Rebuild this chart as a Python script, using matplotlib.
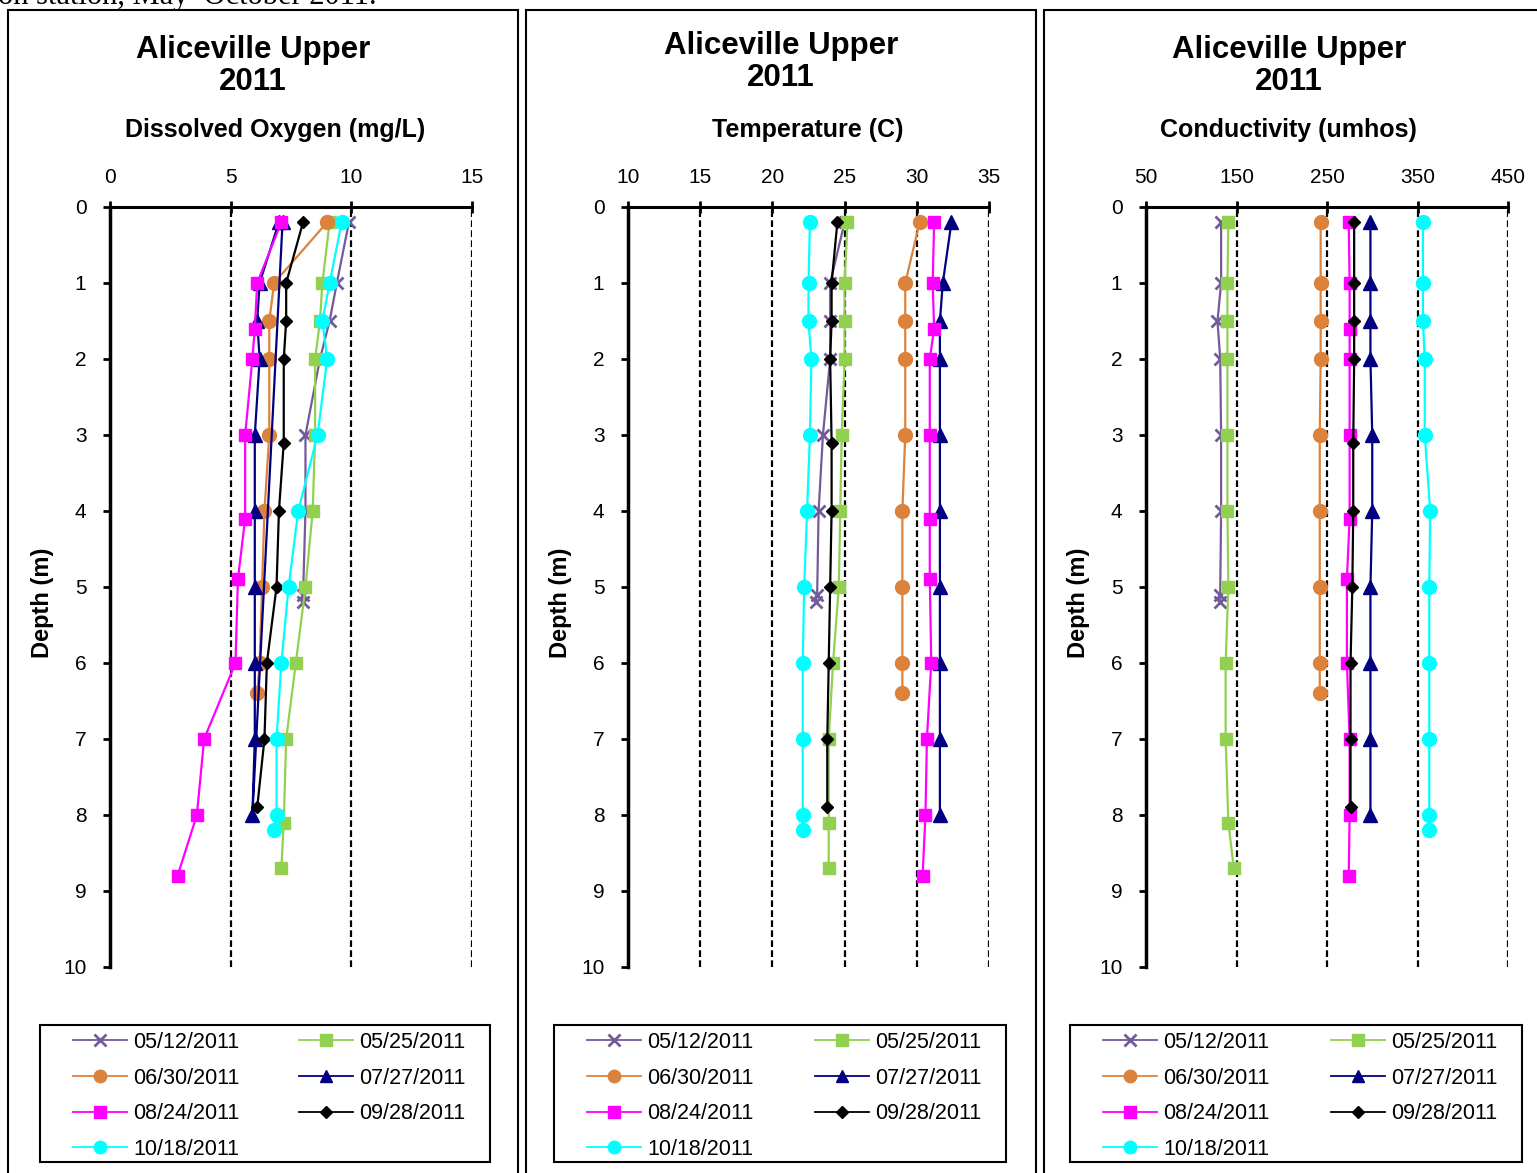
import matplotlib
matplotlib.use("Agg")
import matplotlib.pyplot as plt
from matplotlib.patches import Rectangle

plt.rcParams['font.family'] = ['Liberation Sans', 'DejaVu Sans']

W, H = 1537, 1173

# ---------------- data ----------------
dates = ["05/12/2011", "05/25/2011", "06/30/2011", "07/27/2011",
         "08/24/2011", "09/28/2011", "10/18/2011"]

depth_0512 = [0.2, 1, 1.5, 2, 3, 4, 5.1, 5.2]
depth_0525 = [0.2, 1, 1.5, 2, 3, 4, 5, 6, 7, 8.1, 8.7]
depth_0630 = [0.2, 1, 1.5, 2, 3, 4, 5, 6, 6.4]
depth_0727 = [0.2, 1, 1.5, 2, 3, 4, 5, 6, 7, 8]
depth_0727_do = [0.2, 1, 1.5, 2, 3, 4, 5, 6, 7, 8, 0.2]
depth_0824 = [0.2, 1, 1.6, 2, 3, 4.1, 4.9, 6, 7, 8, 8.8]
depth_0928 = [0.2, 1, 1.5, 2, 3.1, 4, 5, 6, 7, 7.9]
depth_1018 = [0.2, 1, 1.5, 2, 3, 4, 5, 6, 7, 8, 8.2]

do_0512 = [9.9, 9.4, 9.1, 8.7, 8.1, 8.1, 8.0, 8.0]
do_0525 = [9.1, 8.8, 8.7, 8.5, 8.5, 8.4, 8.1, 7.7, 7.3, 7.2, 7.1]
do_0630 = [9.0, 6.8, 6.6, 6.6, 6.6, 6.4, 6.3, 6.2, 6.1]
do_0727 = [7.0, 6.2, 6.1, 6.2, 6.0, 6.0, 6.0, 6.0, 6.0, 5.9, 7.15]
do_0824 = [7.1, 6.1, 6.0, 5.9, 5.6, 5.6, 5.3, 5.2, 3.9, 3.6, 2.8]
do_0928 = [8.0, 7.3, 7.3, 7.2, 7.2, 7.0, 6.9, 6.5, 6.4, 6.1]
do_1018 = [9.6, 9.1, 8.8, 9.0, 8.6, 7.8, 7.4, 7.1, 6.9, 6.9, 6.8]

t_0512 = [25.0, 24.0, 24.0, 24.0, 23.5, 23.2, 23.1, 23.0]
t_0525 = [25.2, 25.0, 25.0, 25.0, 24.8, 24.7, 24.6, 24.2, 23.9, 23.9, 23.9]
t_0630 = [30.2, 29.2, 29.2, 29.2, 29.2, 29.0, 29.0, 29.0, 29.0]
t_0727 = [32.4, 31.8, 31.6, 31.6, 31.6, 31.6, 31.6, 31.6, 31.6, 31.6]
t_0824 = [31.2, 31.1, 31.2, 30.9, 30.9, 30.9, 30.9, 31.0, 30.7, 30.6, 30.4]
t_0928 = [24.5, 24.1, 24.1, 24.0, 24.1, 24.1, 24.0, 23.9, 23.8, 23.8]
t_1018 = [22.6, 22.5, 22.5, 22.7, 22.6, 22.4, 22.2, 22.1, 22.1, 22.1, 22.1]

c_0512 = [133, 133, 129, 132, 133, 133, 132, 132]
c_0525 = [141, 140, 140, 140, 140, 140, 141, 138, 138, 141, 147]
c_0630 = [243, 243, 243, 243, 242, 242, 242, 242, 242]
c_0727 = [298, 298, 298, 298, 300, 300, 298, 298, 298, 298]
c_0824 = [274, 275, 275, 275, 275, 275, 272, 272, 275, 275, 274]
c_0928 = [280, 280, 280, 280, 279, 279, 278, 276, 276, 276]
c_1018 = [356, 356, 356, 358, 358, 364, 363, 363, 363, 363, 363]

do_ticks = [0, 5, 10, 15]
t_ticks = [10, 15, 20, 25, 30, 35]
c_ticks = [50, 150, 250, 350, 450]
depth_ticks = list(range(0, 11))

# ---------------- styles ----------------
colors = ['#735A9B', '#92D050', '#DC823A', '#000080', '#FF00FF', '#000000', '#00FFFF']
markers = ['x', 's', 'o', '^', 's', 'D', 'o']
msizes = [9, 9, 10, 10, 9, 6.5, 10]

fig = plt.figure(figsize=(W / 100, H / 100), dpi=100)


def fx(x):
    return x / W


def fy(y):
    return 1 - y / H


# panel frames
for x0, x1 in [(8, 518), (526, 1036), (1044, 1545)]:
    fig.patches.append(Rectangle((fx(x0), fy(1180)), fx(x1 - x0), (1180 - 10) / H,
                                 transform=fig.transFigure, fill=False,
                                 edgecolor='black', linewidth=1.5, zorder=0))

fig.text(fx(-2), fy(4), "on station, May\u2013October 2011.", family='Liberation Serif',
         fontsize=22, ha='left', va='baseline')

panels = [
    dict(left=110, right=472, xlim=(0, 15), ticks=do_ticks,
         data=[(depth_0512, do_0512), (depth_0525, do_0525), (depth_0630, do_0630),
               (depth_0727_do, do_0727), (depth_0824, do_0824), (depth_0928, do_0928),
               (depth_1018, do_1018)],
         title_x=253, title_y=(50, 82), sub="Dissolved Oxygen (mg/L)", sub_x=275,
         ylab_x=42, leg=(40, 490)),
    dict(left=628, right=989, xlim=(10, 35), ticks=t_ticks,
         data=[(depth_0512, t_0512), (depth_0525, t_0525), (depth_0630, t_0630),
               (depth_0727, t_0727), (depth_0824, t_0824), (depth_0928, t_0928),
               (depth_1018, t_1018)],
         title_x=781, title_y=(46, 78), sub="Temperature (C)", sub_x=808,
         ylab_x=560, leg=(554, 1006)),
    dict(left=1146, right=1508, xlim=(50, 450), ticks=c_ticks,
         data=[(depth_0512, c_0512), (depth_0525, c_0525), (depth_0630, c_0630),
               (depth_0727, c_0727), (depth_0824, c_0824), (depth_0928, c_0928),
               (depth_1018, c_1018)],
         title_x=1289, title_y=(50, 82), sub="Conductivity (umhos)", sub_x=1288,
         ylab_x=1078, leg=(1070, 1522)),
]

top, bottom = 207, 967
for p in panels:
    ax = fig.add_axes([fx(p['left']), fy(bottom), (p['right'] - p['left']) / W, (bottom - top) / H])
    handles = []
    for i, (d, v) in enumerate(p['data']):
        mew = 2 if markers[i] == 'x' else 1
        h, = ax.plot(v, d, color=colors[i], marker=markers[i], markersize=msizes[i],
                     linewidth=1.6, markeredgewidth=mew, markeredgecolor=colors[i],
                     markerfacecolor=colors[i], label=dates[i], clip_on=False,
                     zorder=3 + i)
        handles.append(h)
    ax.set_xlim(*p['xlim'])
    ax.set_ylim(10, 0)
    ax.set_xticks(p['ticks'])
    ax.set_yticks(depth_ticks)
    for t in p['ticks'][1:]:
        ax.axvline(t, color='black', linestyle=(0, (3, 1.5)), linewidth=1.6, zorder=1)
    ax.xaxis.tick_top()
    for s in ['right', 'bottom']:
        ax.spines[s].set_visible(False)
    ax.spines['left'].set_linewidth(2.5)
    ax.spines['top'].set_linewidth(2.2)
    ax.tick_params(axis='x', direction='inout', length=9, width=2, pad=10, labelsize=15)
    ax.tick_params(axis='y', direction='out', length=5, width=2, pad=12, labelsize=15)
    ax.set_facecolor('none')

    fig.text(fx(p['title_x']), fy(p['title_y'][0]), "Aliceville Upper", ha='center', va='center',
             fontsize=22.5, fontweight='bold')
    fig.text(fx(p['title_x']), fy(p['title_y'][1]), "2011", ha='center', va='center',
             fontsize=22.5, fontweight='bold')
    fig.text(fx(p['sub_x']), fy(130), p['sub'], ha='center', va='center',
             fontsize=18, fontweight='bold')
    fig.text(fx(p['ylab_x']), fy(603), "Depth (m)", ha='center', va='center',
             rotation=90, fontsize=17, fontweight='bold')

    # legend: frame drawn separately, entries spread across inner width
    lx0, lx1 = p['leg']
    fig.patches.append(Rectangle((fx(lx0), fy(1162)), (lx1 - lx0) / W, (1162 - 1025) / H,
                                 transform=fig.transFigure, fill=False,
                                 edgecolor='black', linewidth=1.5, zorder=1))
    order = [0, 2, 4, 6, 1, 3, 5]
    ex0, ex1 = lx0 + 33, lx1 - 24
    leg = ax.legend([handles[k] for k in order], [dates[k] for k in order],
                    ncol=2, loc='upper left', mode='expand',
                    bbox_to_anchor=(fx(ex0), fy(1160), (ex1 - ex0) / W, (1160 - 1032) / H),
                    bbox_transform=fig.transFigure, fontsize=15.5, frameon=False,
                    handlelength=2.5, handletextpad=0.3, labelspacing=0.68,
                    borderpad=0, borderaxespad=0, columnspacing=1.0, markerscale=0.9)
    for lh in leg.legend_handles:
        lh.set_linewidth(1.3)

fig.savefig("out.png", dpi=100)
